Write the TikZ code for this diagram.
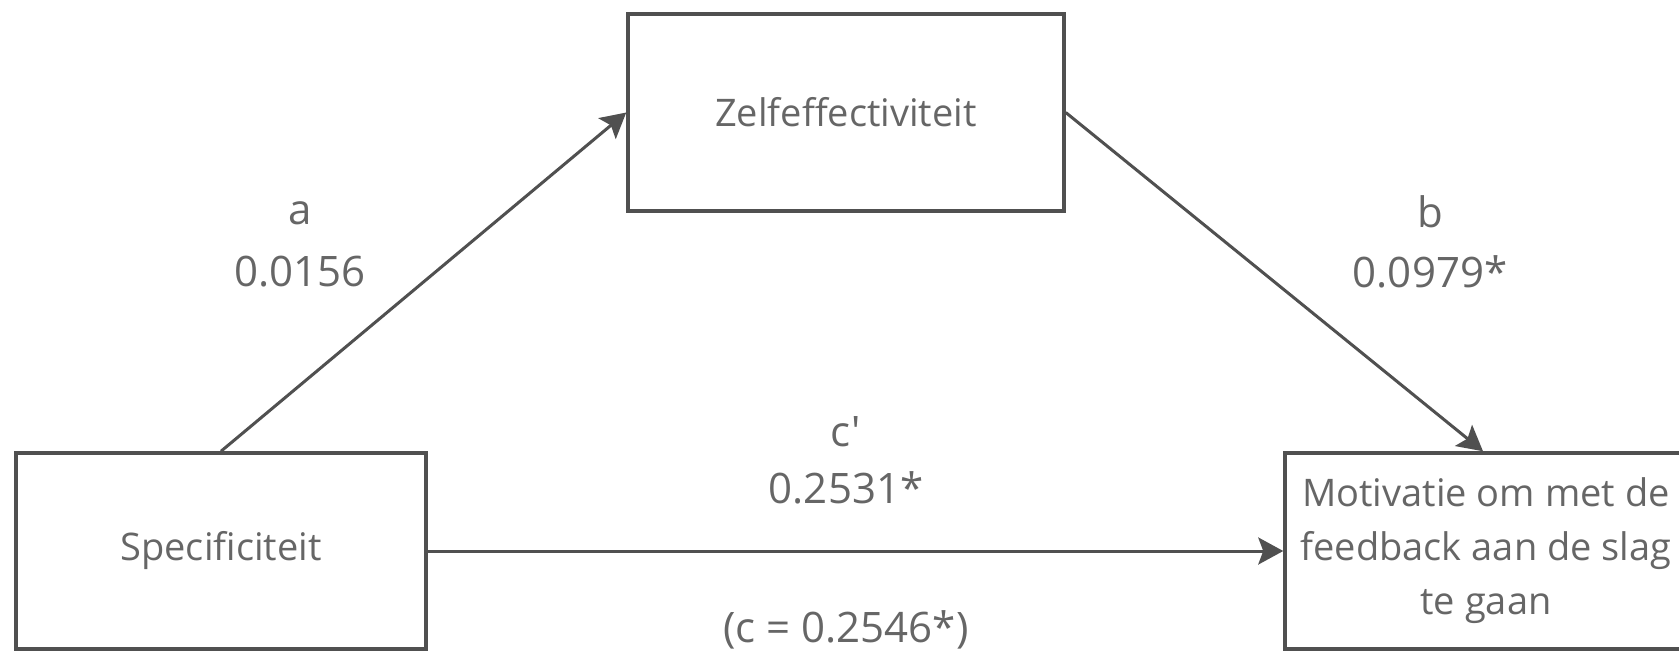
\documentclass[tikz,border=0pt]{standalone}
\usepackage{fontspec}
\setmainfont{Open Sans}[Ligatures=TeXOff]
\usetikzlibrary{arrows.meta}
\definecolor{linec}{HTML}{505050}
\definecolor{textc}{HTML}{666666}
\tikzset{
  box/.style={draw=linec, line width=3.5pt, fill=white, rectangle, inner sep=0pt,
    text=textc, font=\fontsize{38}{54}\selectfont, align=center},
  conn/.style={draw=linec, line width=3pt, -{Stealth[length=25pt,width=27pt,inset=5pt]}},
  lbl/.style={text=textc, font=\fontsize{42}{50}\selectfont, inner sep=0pt}
}
\begin{document}
\begin{tikzpicture}[x=1pt,y=-1pt]
\useasboundingbox (0,0) rectangle (1679,653);
\node[box, minimum width=410pt, minimum height=196pt] (spec) at (221,551) {Specificiteit};
\node[box, minimum width=436pt, minimum height=197pt] (zelf) at (846,112.5) {Zelfeffectiviteit};
\node[box, minimum width=402pt, minimum height=196pt] (mot) at (1486,551) {Motivatie om met de\\feedback aan de slag\\te gaan};
\draw[conn] (spec.north) -- (zelf.west);
\draw[conn] (zelf.east) -- ([xshift=-3pt]mot.north);
\draw[conn] (spec.east) -- (mot.west);
\node[lbl] (la) at (300,213) {a};
\node[lbl] (lav) at (300,272) {0.0156};
\node[lbl] (lb) at (1430,212) {b};
\node[lbl] (lbv) at (1430,272) {0.0979*};
\node[lbl] (lc) at (846,432) {c'};
\node[lbl] (lcv) at (846,488) {0.2531*};
\node[lbl] (lct) at (846,630) {(c = 0.2546*)};
\end{tikzpicture}
\end{document}
